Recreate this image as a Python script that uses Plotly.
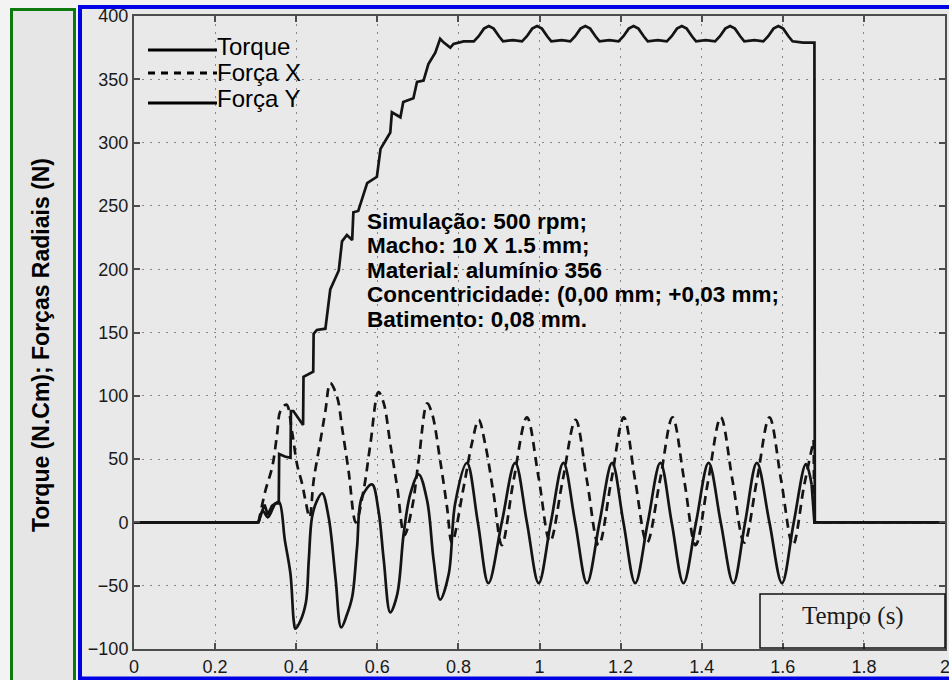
import plotly.graph_objects as go

# ---------------- data ----------------
x_ticks = [0, 0.2, 0.4, 0.6, 0.8, 1.0, 1.2, 1.4, 1.6, 1.8, 2.0]
y_ticks = [-100, -50, 0, 50, 100, 150, 200, 250, 300, 350, 400]

# Torque (N.Cm)
tq_x = [0, 0.307, 0.315, 0.322, 0.330, 0.340, 0.349, 0.357, 0.358, 0.372,
        0.386, 0.387, 0.393, 0.417, 0.418, 0.442, 0.443, 0.451, 0.472, 0.484,
        0.505, 0.513, 0.525, 0.538, 0.541, 0.553, 0.575, 0.599, 0.608, 0.632,
        0.636, 0.657, 0.664, 0.689, 0.698, 0.714, 0.726, 0.743, 0.755, 0.764,
        0.780, 0.788, 0.813, 0.838, 0.850, 0.863, 0.875, 0.887, 0.900, 0.910, 0.935,
        0.957, 0.969, 0.982, 0.994, 1.006, 1.019, 1.029, 1.055,
        1.076, 1.088, 1.101, 1.113, 1.125, 1.138, 1.148, 1.172,
        1.195, 1.207, 1.220, 1.232, 1.244, 1.257, 1.267, 1.292,
        1.314, 1.326, 1.339, 1.351, 1.363, 1.376, 1.386, 1.410,
        1.433, 1.445, 1.458, 1.470, 1.482, 1.495, 1.505, 1.530,
        1.552, 1.564, 1.577, 1.589, 1.601, 1.614, 1.624, 1.650, 1.678, 1.679, 2.0]
tq_y = [0, 0, 8, 14, 6, 13, 15, 15, 54, 52,
        51, 88, 88, 77, 115, 119, 149, 152, 153, 184,
        199, 222, 227, 223, 245, 246, 268, 273, 295, 308,
        324, 320, 332, 335, 348, 349, 362, 371, 382, 379,
        375, 378, 380, 380, 384, 390, 392, 390, 384, 380, 381,
        380, 384, 390, 392, 390, 384, 380, 381,
        380, 384, 390, 392, 390, 384, 380, 381,
        380, 384, 390, 392, 390, 384, 380, 381,
        380, 384, 390, 392, 390, 384, 380, 381,
        380, 384, 390, 392, 390, 384, 380, 381,
        380, 384, 390, 392, 390, 384, 380, 379, 379, 0, 0]

# Força X (N) - dashed
fx_lead_x = [0, 0.2, 0.307]
fx_lead_y = [0, 0, 0]
fx_wave_x = [0.307, 0.324, 0.341, 0.353, 0.361, 0.376, 0.390, 0.402, 0.415, 0.423,
             0.433, 0.443, 0.460, 0.472, 0.484, 0.501, 0.513, 0.529, 0.547, 0.566,
             0.583, 0.603, 0.616, 0.632, 0.649, 0.667, 0.686, 0.702, 0.723, 0.735,
             0.755, 0.772, 0.784, 0.813, 0.833, 0.850, 0.866, 0.887, 0.907, 0.936,
             0.969, 0.998, 1.026, 1.057, 1.089, 1.117, 1.146, 1.177, 1.208, 1.236,
             1.265, 1.297, 1.328, 1.357, 1.385, 1.416, 1.447, 1.476, 1.505, 1.536,
             1.567, 1.596, 1.625, 1.652, 1.676]
fx_wave_y = [0, 25, 44, 70, 88, 93, 71, 46, 30, 17,
             4, 33, 65, 88, 110, 99, 75, 41, 0, 25,
             62, 103, 94, 62, 28, -10, 12, 49, 94, 86,
             49, 12, -16, 28, 62, 81, 62, 22, -18, 33,
             83, 35, -15, 33, 81, 33, -18, 33, 83, 33,
             -16, 33, 83, 33, -18, 33, 83, 33, -16, 33,
             83, 33, -18, 28, 65]
fx_tail_x = [1.676, 1.678, 2.0]
fx_tail_y = [65, 0, 0]

# Força Y (N) - solid
fy_lead_x = [0, 0.2, 0.307]
fy_lead_y = [0, 0, 0]
fy_wave_x = [0.307, 0.318, 0.330, 0.349, 0.358, 0.372, 0.386, 0.394, 0.398, 0.410,
             0.424, 0.431, 0.439, 0.451, 0.464, 0.480, 0.497, 0.511, 0.525, 0.538,
             0.550, 0.562, 0.587, 0.603, 0.616, 0.632, 0.649, 0.665, 0.681, 0.702,
             0.723, 0.739, 0.755, 0.776, 0.792, 0.821, 0.848, 0.874, 0.907, 0.940,
             0.969, 0.998, 1.028, 1.059, 1.088, 1.117, 1.148, 1.179, 1.207, 1.236,
             1.267, 1.298, 1.326, 1.355, 1.386, 1.417, 1.447, 1.478, 1.507, 1.536,
             1.567, 1.598, 1.627, 1.657, 1.671]
fy_wave_y = [0, 9, 4, 15, 16, -14, -41, -78, -84, -78,
             -63, -30, 4, 17, 23, 4, -44, -83, -73, -59,
             -20, 20, 30, 9, -30, -71, -57, -9, 22, 38,
             17, -30, -61, -41, 15, 47, 0, -48, 0, 47,
             0, -48, 0, 47, 0, -48, 0, 47, 0, -48,
             0, 47, 0, -48, 0, 47, 0, -48, 0, 47,
             0, -48, 0, 46, 30]
fy_tail_x = [1.671, 1.678, 2.0]
fy_tail_y = [30, 0, 0]

legend_names = ["Torque", "Força X", "Força Y"]
info_lines = ["Simulação: 500 rpm;", "Macho: 10 X 1.5 mm;", "Material: alumínio 356",
              "Concentricidade: (0,00 mm; +0,03 mm;", "Batimento: 0,08 mm."]
x_title = "Tempo (s)"
y_title = "Torque (N.Cm); Forças Radiais (N)"

# ---------------- figure ----------------
W, H = 949, 680
ML, MR, MT, MB = 134, 4, 16, 31
PW, PH = W - ML - MR, H - MT - MB

def px(x):
    return (x - ML) / PW

def py(y):
    return (H - MB - y) / PH

INK = "#141414"
LW = 2.7
SANS = "Liberation Sans, Arial, sans-serif"
SERIF = "Liberation Serif, Times New Roman, serif"

fig = go.Figure()

def add(xs, ys, dash="solid", shape="linear"):
    fig.add_trace(go.Scatter(x=xs, y=ys, mode="lines", showlegend=False,
                             line=dict(color=INK, width=LW, dash=dash, shape=shape,
                                       smoothing=1.0 if shape == "spline" else None),
                             hoverinfo="skip"))

DASH = "9px,6px"
add(fx_lead_x, fx_lead_y)
add(fx_wave_x, fx_wave_y, dash=DASH, shape="spline")
add(fx_tail_x, fx_tail_y, dash=DASH)
add(fy_lead_x, fy_lead_y)
add(fy_wave_x, fy_wave_y, shape="spline")
add(fy_tail_x, fy_tail_y)
add(tq_x, tq_y)

axis_common = dict(showgrid=True, gridcolor="#858585", gridwidth=1.4, griddash="2px,6px",
                   showline=True, linecolor="#4d4d4d", linewidth=2, mirror="ticks",
                   ticks="inside", ticklen=6, tickwidth=1.5, tickcolor="#4d4d4d",
                   ticklabeloverflow="allow",
                   tickfont=dict(family=SANS, size=18, color="#1a1a1a"), zeroline=False)
fig.update_xaxes(range=[0, 2], tickvals=x_ticks, **axis_common)
fig.update_yaxes(range=[-100, 400], tickvals=y_ticks, **axis_common)

shapes = []
# green y-title box
shapes.append(dict(type="rect", xref="paper", yref="paper", layer="below",
                   x0=px(11.5), x1=px(74.5), y0=py(692), y1=py(9.5),
                   line=dict(color="#0d7a0d", width=3), fillcolor="#e6e6e6"))
# blue plot box
shapes.append(dict(type="rect", xref="paper", yref="paper", layer="below",
                   x0=px(80), x1=px(1000), y0=py(678.5), y1=py(7),
                   line=dict(color="#0000e6", width=4), fillcolor="#e9e9e9"))
# x-title box
shapes.append(dict(type="rect", xref="paper", yref="paper", layer="above",
                   x0=px(760), x1=px(945), y0=py(648), y1=py(594),
                   line=dict(color="#111", width=1.5), fillcolor="rgba(0,0,0,0)"))

annotations = []
# manual legend
leg_y = [50, 73, 103]
txt_y = [46, 72, 98]
dashes = ["solid", "7px,6px", "solid"]
for name, ly, ty, d in zip(legend_names, leg_y, txt_y, dashes):
    shapes.append(dict(type="line", xref="paper", yref="paper", layer="above",
                       x0=px(148), x1=px(217), y0=py(ly), y1=py(ly),
                       line=dict(color="#000", width=3, dash=d)))
    annotations.append(dict(xref="paper", yref="paper", x=px(215), y=py(ty),
                            xanchor="left", yanchor="middle", showarrow=False,
                            text=name, font=dict(family=SANS, size=24, color="#000")))

# info text block
for i, line in enumerate(info_lines):
    annotations.append(dict(xref="paper", yref="paper", x=px(365), y=py(221 + 24.6 * i),
                            xanchor="left", yanchor="middle", showarrow=False,
                            text="<b>" + line + "</b>",
                            font=dict(family=SANS, size=22.5, color="#000")))

annotations.append(dict(xref="paper", yref="paper", x=px(852.5), y=py(616),
                        xanchor="center", yanchor="middle", showarrow=False,
                        text=x_title, font=dict(family=SERIF, size=25, color="#1a1a1a")))
annotations.append(dict(xref="paper", yref="paper", x=px(41), y=py(345),
                        xanchor="center", yanchor="middle", showarrow=False, textangle=-90,
                        text="<b>" + y_title + "</b>",
                        font=dict(family=SANS, size=23, color="#000")))

fig.update_layout(width=W, height=H, autosize=False,
                  margin=dict(l=ML, r=MR, t=MT, b=MB, autoexpand=False),
                  paper_bgcolor="#f3f3f3", plot_bgcolor="rgba(0,0,0,0)",
                  showlegend=False, shapes=shapes, annotations=annotations)

fig.write_html("out.html")
